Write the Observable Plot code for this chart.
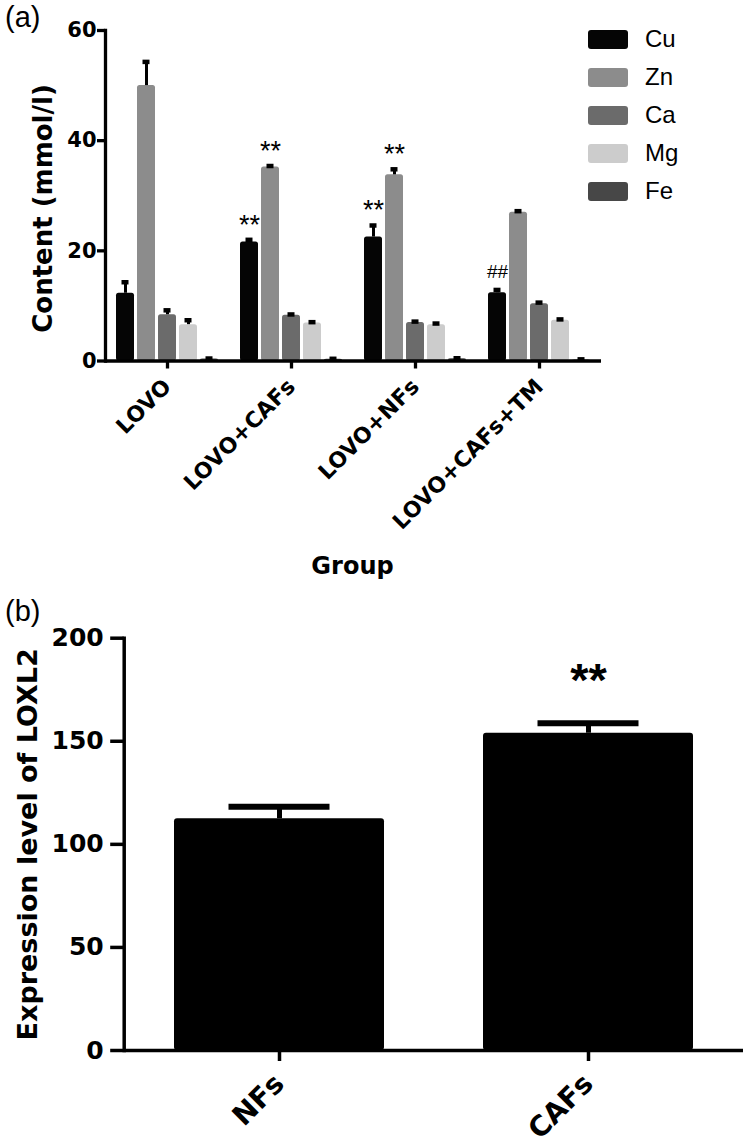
<!DOCTYPE html>
<html><head><meta charset="utf-8">
<script src="https://cdn.jsdelivr.net/npm/d3@7"></script>
<script src="https://cdn.jsdelivr.net/npm/@observablehq/plot@0.6"></script>
<style>
body{margin:0;background:#fff;}
#wrap{position:relative;width:750px;height:1144px;overflow:hidden;background:#fff;font-family:"Liberation Sans",Arial,sans-serif;color:#000;}
.panel{position:absolute;left:0;}
.panel svg{overflow:visible;}
.tag{position:absolute;left:5px;font-size:29px;line-height:29px;}
#legend{position:absolute;left:588px;top:20px;}
.li{display:flex;align-items:center;height:38px;}
.sw{width:40px;height:19px;border-radius:3px;margin-right:17px;}
.lt{font-size:24px;line-height:24px;}
g[aria-label$="tick label"] text{font-weight:bold;}
</style></head><body><div id="wrap"></div>
<script>
// ---------- panel (a) data ----------
const groups = ["LOVO", "LOVO+CAFs", "LOVO+NFs", "LOVO+CAFs+TM"];
const elements = ["Cu", "Zn", "Ca", "Mg", "Fe"];
const colors = ["#050505", "#8c8c8c", "#6b6b6b", "#cccccc", "#474747"];
const cu = [12.3, 21.6, 22.5, 12.4];
const zn = [50.0, 35.2, 33.8, 27.0];
const ca = [8.4, 8.3, 7.0, 10.4];
const mg = [6.6, 6.9, 6.6, 7.4];
const fe = [0.35, 0.3, 0.4, 0.2];
const cuErr = [2.0, 0.4, 2.1, 0.5];
const znErr = [4.3, 0.2, 1.0, 0.2];
const caErr = [0.8, 0.15, 0.15, 0.2];
const mgErr = [0.8, 0.15, 0.2, 0.15];
const feErr = [0.1, 0.1, 0.1, 0.1];
const yTicksA = [0, 20, 40, 60];
const annotGroups = ["LOVO+CAFs", "LOVO+CAFs", "LOVO+NFs", "LOVO+NFs", "LOVO+CAFs+TM"];
const annotElements = ["Cu", "Zn", "Cu", "Zn", "Cu"];
const annotLabels = ["**", "**", "**", "**", "##"];

// ---------- panel (b) data ----------
const cells = ["NFs", "CAFs"];
const loxl2 = [112.4, 153.9];
const loxl2Err = [5.8, 4.9];
const yTicksB = [0, 50, 100, 150, 200];
const bAnnotCells = ["CAFs"];
const bAnnotLabels = ["**"];

// ---------- build tables ----------
const valueSeries = [cu, zn, ca, mg, fe];
const errSeries = [cuErr, znErr, caErr, mgErr, feErr];
const rows = groups.flatMap((g, gi) => elements.map((e, ei) => ({
  group: g, element: e, value: valueSeries[ei][gi], err: errSeries[ei][gi]
})));
const find = (g, e) => rows.find(r => r.group === g && r.element === e);
const annots = annotLabels.map((label, i) => {
  const r = find(annotGroups[i], annotElements[i]);
  return {group: r.group, element: r.element, top: r.value + r.err, label};
});
const brows = cells.map((c, i) => ({cell: c, value: loxl2[i], err: loxl2Err[i]}));
const bannots = bAnnotLabels.map((label, i) => {
  const r = brows.find(d => d.cell === bAnnotCells[i]);
  return {cell: r.cell, top: r.value + r.err, label};
});

const wrap = document.getElementById("wrap");
const BOLD = "DejaVu Sans";

// ---------- panel (a) ----------
const A = Plot.plot({
  width: 750, height: 590,
  marginLeft: 104, marginRight: 148, marginTop: 30, marginBottom: 229.5,
  style: {fontFamily: BOLD, background: "transparent", color: "#000"},
  fx: {domain: groups, padding: 0},
  x: {domain: elements, paddingInner: 0.136, paddingOuter: 0.3975, axis: null},
  y: {domain: [0, 60]},
  color: {domain: elements, range: colors},
  marks: [
    Plot.barY(rows, {fx: "group", x: "element", y: "value", fill: "element", rx: 2.5}),
    Plot.ruleX(rows, {fx: "group", x: "element", y1: "value", y2: d => d.value + d.err, stroke: "#000", strokeWidth: 3}),
    Plot.tickY(rows, {fx: "group", x: "element", y: d => d.value + d.err, stroke: "#000", strokeWidth: 4.5, insetLeft: 5.5, insetRight: 5.5}),
    Plot.text(annots.filter(d => d.label === "**"), {fx: "group", x: "element", y: "top", text: "label", fontSize: 27, fontFamily: "Liberation Sans", lineAnchor: "bottom", dy: -6}),
    Plot.text(annots.filter(d => d.label === "##"), {fx: "group", x: "element", y: "top", text: "label", fontSize: 19, fontFamily: "Liberation Sans", lineAnchor: "bottom", dy: -12}),
    Plot.ruleY([0], {stroke: "#000", strokeWidth: 3.3}),
    Plot.frame({anchor: "left", facetAnchor: "left", stroke: "#000", strokeWidth: 3.3}),
    Plot.axisY({ticks: yTicksA, tickSize: 8, tickPadding: 1, fontSize: 21, fontWeight: "bold", strokeWidth: 3.3, label: null}),
    Plot.axisFx({anchor: "bottom", tickSize: 8, tickRotate: -45, tickPadding: 14, fontSize: 22, fontWeight: "bold", strokeWidth: 3.3, label: null}),
    Plot.text(["Content (mmol/l)"], {facet: "super", frameAnchor: "left", text: d => d, textAnchor: "middle", rotate: -90, dx: -62, dy: 12.75, fontSize: 26, fontWeight: "bold"}),
    Plot.text(["Group"], {facet: "super", frameAnchor: "bottom", text: d => d, textAnchor: "middle", lineAnchor: "bottom", dx: -1, dy: 212.5, fontSize: 24, fontWeight: "bold"})
  ]
});
const pa = document.createElement("div");
pa.className = "panel"; pa.style.top = "0px";
pa.appendChild(A);
wrap.appendChild(pa);

// legend
const leg = document.createElement("div");
leg.id = "legend";
elements.forEach((e, i) => {
  const row = document.createElement("div"); row.className = "li";
  const sw = document.createElement("div"); sw.className = "sw"; sw.style.background = colors[i];
  const t = document.createElement("span"); t.className = "lt"; t.textContent = e;
  row.appendChild(sw); row.appendChild(t); leg.appendChild(row);
});
wrap.appendChild(leg);

// ---------- panel (b) ----------
const B = Plot.plot({
  width: 750, height: 554,
  marginLeft: 123.7, marginRight: 7, marginTop: 47.7, marginBottom: 94,
  style: {fontFamily: BOLD, background: "transparent", color: "#000"},
  x: {domain: cells, paddingInner: 0.32, paddingOuter: 0.16},
  y: {domain: [0, 200]},
  marks: [
    Plot.barY(brows, {x: "cell", y: "value", fill: "#000", rx: 3}),
    Plot.ruleX(brows, {x: "cell", y1: "value", y2: d => d.value + d.err, stroke: "#000", strokeWidth: 5}),
    Plot.tickY(brows, {x: "cell", y: d => d.value + d.err, stroke: "#000", strokeWidth: 6, insetLeft: 54.5, insetRight: 54.5}),
    Plot.text(bannots, {x: "cell", y: "top", text: "label", fontSize: 47, fontWeight: "bold", fontFamily: "Liberation Sans", lineAnchor: "bottom", dy: -26.7}),
    Plot.ruleY([0], {stroke: "#000", strokeWidth: 3.5}),
    Plot.frame({anchor: "left", stroke: "#000", strokeWidth: 3.5}),
    Plot.axisY({ticks: yTicksB, tickSize: 13.5, tickPadding: 7, fontSize: 25, fontWeight: "bold", strokeWidth: 3.5, label: null}),
    Plot.axisX({tickSize: 11, tickRotate: -45, tickPadding: 17.5, fontSize: 28, fontWeight: "bold", strokeWidth: 3.5, label: null}),
    Plot.text(["Expression level of LOXL2"], {frameAnchor: "left", text: d => d, textAnchor: "middle", rotate: -90, dx: -95.7, dy: 0, fontSize: 27, fontWeight: "bold"})
  ]
});
const pb = document.createElement("div");
pb.className = "panel"; pb.style.top = "590px";
pb.appendChild(B);
wrap.appendChild(pb);

// panel tags
[["(a)", 3], ["(b)", 597]].forEach(([t, top]) => {
  const d = document.createElement("div"); d.className = "tag"; d.style.top = top + "px"; d.textContent = t;
  wrap.appendChild(d);
});
</script></body></html>
